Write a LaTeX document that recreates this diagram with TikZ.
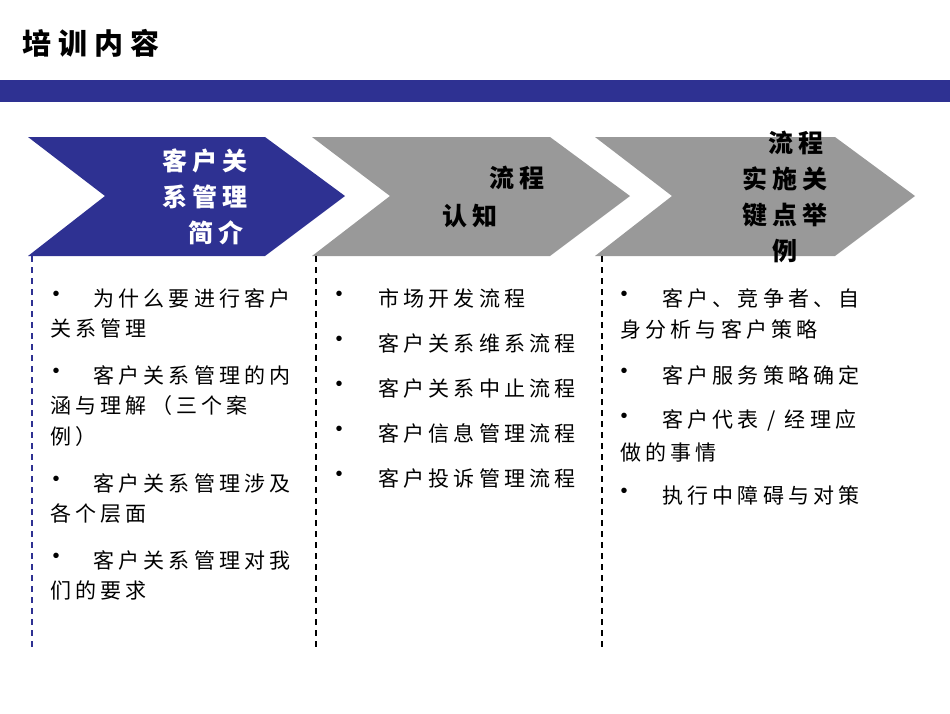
\documentclass[tikz,border=0pt]{standalone}
\usepackage{fontspec}
\setmainfont{Liberation Sans}
\newfontfamily\cjk[LetterSpace=20]{Noto Sans CJK SC}
\newfontfamily\cjkt[LetterSpace=25]{Noto Sans CJK SC}
\definecolor{navy}{RGB}{46,49,146}
\definecolor{chgray}{RGB}{153,153,153}
\begin{document}
\begin{tikzpicture}[x=1pt,y=-1pt,
  body/.style={anchor=west,inner sep=0pt,font=\cjk\fontsize{21}{21}\selectfont},
  bul/.style={anchor=center,inner sep=0pt,font=\fontsize{20}{20}\selectfont},
  head/.style={align=center,inner sep=0pt,font=\cjk\bfseries\fontsize{25}{36}\selectfont},
  sep/.style={line width=2.5pt,dash pattern=on 6pt off 5pt}]
\useasboundingbox (0,0) rectangle (950,713);
\node[anchor=west,inner sep=0pt,font=\cjkt\bfseries\fontsize{29}{29}\selectfont] (title) at (22,43) {培训内容};
\fill[navy] (0,80) rectangle (950,102);
\fill[navy] (28,137) -- (265,137) -- (345,196) -- (265,256) -- (28,256) -- (105,196) -- cycle;
\fill[chgray] (312,137) -- (550,137) -- (630,196) -- (550,256) -- (312,256) -- (390,196) -- cycle;
\fill[chgray] (595,137) -- (835,137) -- (915,196) -- (835,256) -- (595,256) -- (672,196) -- cycle;
\node[head,white] (h1) at (205,197) {客户关\\系管理\\\ \ 简介};
\node[head] (h2a) at (517,178) {流程};
\node[head] (h2b) at (470,216) {认知};
\node[head] (h3) at (785,197) {\ \ 流程\\实施关\\键点举\\例};
\draw[sep,navy] (32,256) -- (32,648);
\draw[sep,black] (316,256) -- (316,648);
\draw[sep,black] (602,256) -- (602,648);
% column 1
\node[bul] (p1) at (56,296) {•};
\node[body] (a1) at (93,298) {为什么要进行客户};
\node[body] (a2) at (50,328) {关系管理};
\node[bul] (p2) at (56,373) {•};
\node[body] (a3) at (93,375) {客户关系管理的内};
\node[body] (a4) at (50,406) {涵与理解（三个案};
\node[body] (a5) at (50,437) {例）};
\node[bul] (p3) at (56,481) {•};
\node[body] (a6) at (93,483) {客户关系管理涉及};
\node[body] (a7) at (50,514) {各个层面};
\node[bul] (p4) at (56,558) {•};
\node[body] (a8) at (93,560) {客户关系管理对我};
\node[body] (a9) at (50,590) {们的要求};
% column 2
\node[bul] (q1) at (339,296) {•};
\node[body] (b1) at (378,298) {市场开发流程};
\node[bul] (q2) at (339,341) {•};
\node[body] (b2) at (378,343) {客户关系维系流程};
\node[bul] (q3) at (339,386) {•};
\node[body] (b3) at (378,388) {客户关系中止流程};
\node[bul] (q4) at (339,431) {•};
\node[body] (b4) at (378,433) {客户信息管理流程};
\node[bul] (q5) at (339,476) {•};
\node[body] (b5) at (378,478) {客户投诉管理流程};
% column 3
\node[bul] (r1) at (624,296) {•};
\node[body] (c1) at (662,298) {客户、竞争者、自};
\node[body] (c2) at (620,330) {身分析与客户策略};
\node[bul] (r2) at (624,373) {•};
\node[body] (c3) at (662,375) {客户服务策略确定};
\node[bul] (r3) at (624,418) {•};
\node[body] (c4) at (662,420) {客户代表 / 经理应};
\node[body] (c5) at (620,452) {做的事情};
\node[bul] (r4) at (624,493) {•};
\node[body] (c6) at (662,495) {执行中障碍与对策};
\end{tikzpicture}
\end{document}
